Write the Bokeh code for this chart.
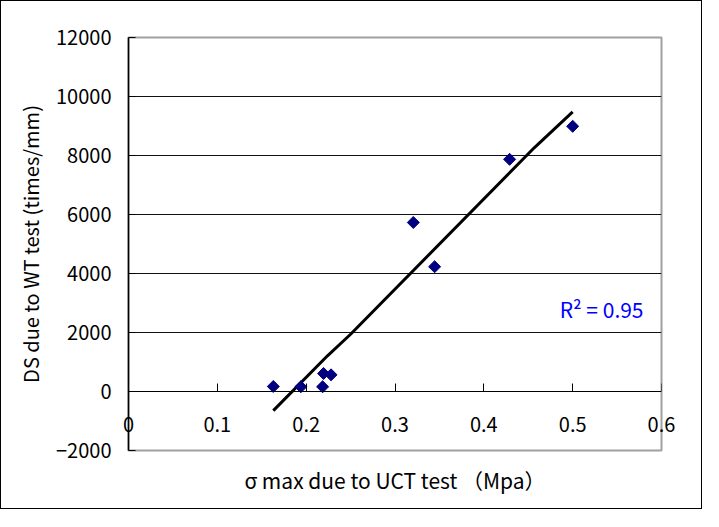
from bokeh.plotting import figure
from bokeh.models import FixedTicker, Range1d, Label, Title, LinearAxis
from bokeh.embed import file_html
from bokeh.resources import INLINE
import math

# --- data ---
x_vals = [0.163, 0.194, 0.2185, 0.2196, 0.228, 0.3206, 0.3446, 0.429, 0.500]
y_vals = [170, 160, 160, 610, 565, 5730, 4230, 7870, 8990]

trend_x = [0.163, 0.224, 0.250, 0.457, 0.500]
trend_y = [-650, 1210, 1940, 8270, 9480]

x_ticks = [0, 0.1, 0.2, 0.3, 0.4, 0.5, 0.6]
x_tick_labels = ["0", "0.1", "0.2", "0.3", "0.4", "0.5", "0.6"]
y_ticks = [-2000, 0, 2000, 4000, 6000, 8000, 10000, 12000]
y_tick_labels = ["\u22122000", "0", "2000", "4000", "6000", "8000", "10000", "12000"]
grid_ticks = [2000, 4000, 6000, 8000, 10000]

x_title = "\u03c3 max due to UCT test \uff08Mpa\uff09"
y_title = "DS due to WT test (times/mm)"
r2_text = "R\u00b2 = 0.95"
r2_x, r2_y = 0.4854, 2780

FONT = "Noto Sans CJK JP"

p = figure(width=702, height=509,
           x_range=Range1d(0, 0.6), y_range=Range1d(-2000, 12000),
           output_backend="svg", toolbar_location=None,
           min_border_left=127, min_border_right=42,
           min_border_top=36, min_border_bottom=60)
p.styles = {"border": "1px solid black"}
p.background_fill_color = "white"
p.border_fill_color = "white"
p.outline_line_color = "#a0a0a0"
p.outline_line_width = 2

# grid
p.xgrid.visible = False
p.ygrid.ticker = FixedTicker(ticks=grid_ticks)
p.ygrid.grid_line_color = "#111111"
p.ygrid.grid_line_width = 1

# y axis
ya = p.yaxis[0]
ya.ticker = FixedTicker(ticks=y_ticks)
ya.major_label_overrides = {t: l for t, l in zip(y_ticks, y_tick_labels)}
ya.major_tick_in = 7
ya.major_tick_out = 0
ya.minor_tick_in = 0
ya.minor_tick_out = 0
ya.axis_line_color = "black"
ya.axis_line_width = 1.5
ya.major_tick_line_color = "black"
ya.major_label_standoff = 17
ya.major_label_text_font = FONT
ya.major_label_text_font_size = "20px"
ya.major_label_text_color = "black"
ya.axis_label = y_title
ya.axis_label_text_font = FONT
ya.axis_label_text_font_size = "20px"
ya.axis_label_text_font_style = "normal"
ya.axis_label_text_color = "black"
ya.axis_label_standoff = 8

# x axis at y = 0 (line and ticks only)
xa = p.xaxis[0]
xa.fixed_location = 0
xa.ticker = FixedTicker(ticks=x_ticks)
xa.major_tick_in = 8
xa.major_tick_out = 0
xa.minor_tick_in = 0
xa.minor_tick_out = 0
xa.axis_line_color = "black"
xa.axis_line_width = 1.2
xa.major_tick_line_color = "black"
xa.major_label_text_color = None

# second x axis carrying the tick labels (drawn unclipped, pulled up under y = 0)
xl = LinearAxis(ticker=FixedTicker(ticks=x_ticks),
                major_label_overrides={t: l for t, l in zip(x_ticks, x_tick_labels)},
                axis_line_color=None, major_tick_line_color=None,
                minor_tick_line_color=None,
                major_tick_in=0, major_tick_out=0,
                major_label_standoff=-34,
                major_label_text_font=FONT, major_label_text_font_size="20px",
                major_label_text_color="black")
p.add_layout(xl, "below")

p.add_layout(Title(text=x_title, align="center", text_font=FONT,
                   text_font_size="21px", text_font_style="normal",
                   text_color="black", standoff=24, offset=9), "below")

# trend line and points
p.line(trend_x, trend_y, line_color="black", line_width=3)
p.scatter(x_vals, y_vals, marker="square", size=8.5, angle=math.pi / 4,
          fill_color="#000080", line_color="#000080")

p.add_layout(Label(x=r2_x, y=r2_y, text=r2_text, text_color="#0000FF",
                   text_font=FONT, text_font_size="21px",
                   text_baseline="middle", text_align="left"))

open("out.html", "w").write(file_html(p, INLINE))
